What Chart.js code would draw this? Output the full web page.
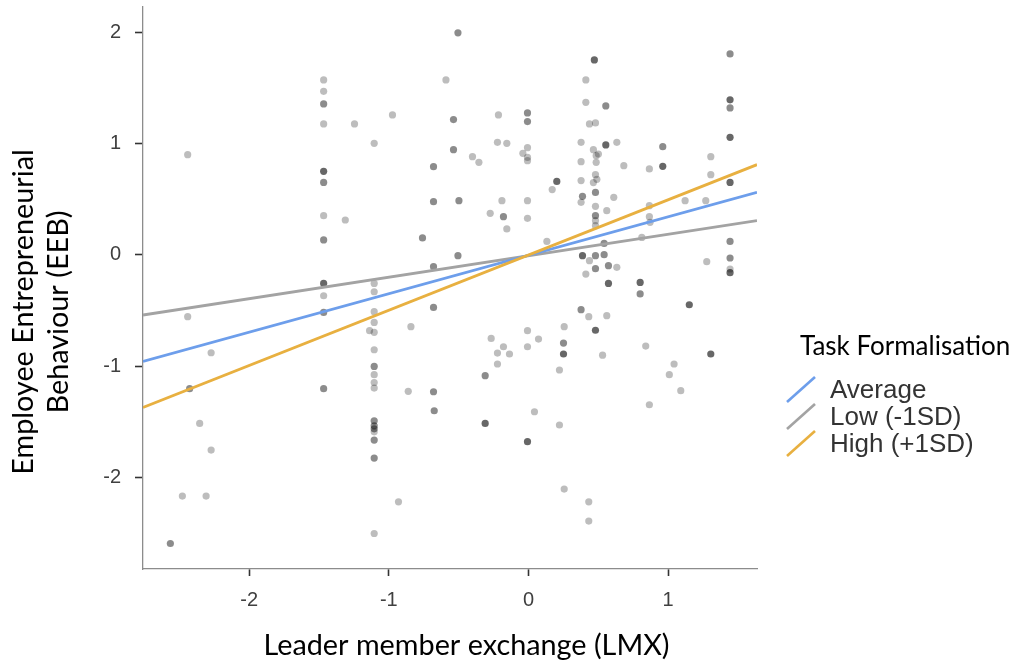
<!DOCTYPE html>
<html><head><meta charset="utf-8">
<script src="https://cdn.jsdelivr.net/npm/chart.js@4/dist/chart.umd.min.js"></script>
<style>html,body{margin:0;padding:0;background:#fff}#wrap{position:relative;width:1015px;height:662px}</style>
</head><body><div id="wrap"><canvas id="c"></canvas></div>
<script>
// Observed points (LMX, EEB) and how many observations overlap at each spot
const lmx = [-2.441,-1.467,-1.467,-1.467,-1.467,-1.246,-0.974,-1.105,-1.467,-1.467,-0.680,-0.591,-0.537,-0.537,-0.505,-0.215,-0.401,-0.355,-0.222,-0.155,
 -0.007,-0.007,-0.007,-0.040,-0.007,-0.007,0.203,0.170,0.472,0.411,0.411,0.554,0.437,0.480,0.377,0.465,0.554,0.633,0.377,0.485,
 0.485,0.501,0.683,0.866,0.377,0.480,0.465,0.490,0.387,0.480,0.611,0.962,0.962,1.306,1.306,1.444,1.444,1.444,1.444,1.444,
 -0.498,-0.190,-0.007,1.122,1.270,-1.467,-1.312,-1.467,-1.467,-1.467,-1.467,-2.441,-2.273,-1.105,-1.105,-1.105,-1.105,-1.138,-1.105,-0.842,
 -1.105,-1.105,-1.105,-1.105,-1.105,-0.680,-0.759,-0.505,-0.680,-0.680,-2.427,-1.467,-0.861,-0.680,-2.355,-2.273,-2.479,-2.309,-2.565,-1.105,
 -1.105,-1.105,-1.105,-1.105,-1.105,-0.675,-0.931,-1.105,-0.274,-0.179,-0.007,-0.155,0.132,0.377,0.480,0.480,0.480,0.480,0.561,0.866,
 0.866,0.871,0.542,0.812,0.387,0.480,0.542,0.437,0.480,0.573,0.633,0.411,0.573,0.800,0.800,1.444,1.444,1.444,1.444,1.277,
 1.152,0.377,0.432,0.561,0.256,0.480,-0.267,-0.007,0.072,-0.179,-0.222,-0.136,-0.007,-0.222,0.251,0.251,0.531,0.222,-0.310,0.840,
 1.306,1.043,1.009,1.091,-0.310,0.043,0.222,-0.007,0.256,0.432,0.432,0.866];
const eeb = [0.901,1.572,1.470,1.357,1.177,1.177,1.258,1.003,0.751,0.652,0.793,1.572,1.216,0.946,1.995,1.258,0.883,0.832,1.012,1.003,
 1.276,1.198,0.964,0.913,0.877,0.847,0.661,0.587,1.752,1.572,1.371,1.339,1.177,1.186,1.012,0.946,0.988,1.012,0.838,0.892,
 0.832,0.907,0.802,0.773,0.668,0.721,0.650,0.679,0.527,0.562,0.518,0.973,0.796,0.883,0.721,1.806,1.393,1.321,1.057,0.652,
 0.488,0.488,0.488,0.488,0.488,0.353,0.314,0.135,-0.255,-0.366,-0.516,-0.554,-0.878,-0.255,-0.330,-0.509,-0.606,-0.680,-0.695,-0.644,
 -0.851,-1.001,-1.075,-1.145,-1.195,0.479,0.153,-0.006,-0.105,-0.471,-1.201,-1.201,-1.224,-1.228,-1.513,-1.752,-2.165,-2.165,-2.591,-1.489,
 -1.534,-1.561,-1.588,-1.662,-1.824,-1.399,-2.217,-2.501,0.374,0.344,0.329,0.234,0.122,0.473,0.437,0.353,0.308,0.263,0.398,0.443,
 0.344,0.293,0.104,0.158,-0.006,-0.006,0.003,-0.051,-0.123,-0.096,-0.111,-0.171,-0.255,-0.246,-0.350,0.122,-0.027,-0.126,-0.159,-0.060,
 -0.447,-0.491,-0.554,-0.545,-0.644,-0.676,-0.749,-0.680,-0.755,-0.824,-0.881,-0.889,-0.824,-0.979,-0.791,-0.889,-0.900,-1.033,-1.084,-0.818,
 -0.889,-0.979,-1.075,-1.219,-1.513,-1.408,-1.527,-1.677,-2.102,-2.217,-2.390,-1.345];
const overlap = [1,1,1,2,1,1,1,1,3,2,2,1,2,2,2,1,1,1,1,1,
 2,2,1,1,1,1,3,1,3,1,1,2,1,1,1,1,3,1,1,1,
 1,1,1,1,1,1,1,1,2,2,1,2,3,1,1,2,3,2,3,3,
 2,1,1,1,1,1,1,2,3,1,2,1,1,1,1,1,1,1,1,1,
 1,2,1,1,1,2,2,2,2,2,2,2,1,2,1,1,1,1,2,2,
 2,2,1,2,2,2,1,1,1,2,1,1,1,1,1,2,1,1,1,1,
 1,1,2,1,3,2,2,1,2,2,1,1,3,3,2,2,2,1,3,1,
 3,2,1,1,1,3,1,1,1,1,1,1,1,1,2,3,1,1,2,1,
 3,1,1,1,3,1,1,3,1,1,1,1];

// Simple-slope lines: EEB at the two ends of the LMX axis
const lineX = [-2.761, 1.637];
const averageY = [-0.956, 0.562];
const lowY = [-0.539, 0.308];
const highY = [-1.369, 0.811];

const seriesNames = ['Average', 'Low (-1SD)', 'High (+1SD)'];
const legendTitle = 'Task Formalisation';
const xTitle = 'Leader member exchange (LMX)';
const yTitle = ['Employee Entrepreneurial', 'Behaviour (EEB)'];

const xTickValues = [-2, -1, 0, 1];
const xTickLabels = ['-2', '-1', '0', '1'];
const yTickValues = [2, 1, 0, -1, -2];
const yTickLabels = ['2', '1', '0', '-1', '-2'];

const colors = { average: '#6d9eeb', low: '#a3a3a3', high: '#e8b040' };

const points = lmx.map((x, i) => ({ x: x, y: eeb[i] }));
const pointColors = overlap.map(n => 'rgba(0,0,0,' + (1 - Math.pow(1 - 0.26, n)).toFixed(3) + ')');
const seg = ys => lineX.map((x, i) => ({ x: x, y: ys[i] }));

const textPlugin = {
  id: 'texts',
  afterDraw(chart) {
    const ctx = chart.ctx;
    ctx.save();
    ctx.fillStyle = '#000';
    ctx.font = '28.8px Lato';
    ctx.textAlign = 'center';
    ctx.textBaseline = 'alphabetic';
    ctx.fillText(xTitle, 466.5, 655);
    ctx.save();
    ctx.translate(33, 312);
    ctx.rotate(-Math.PI / 2);
    ctx.fillText(yTitle[0], 0, 0);
    ctx.fillText(yTitle[1], 0, 35);
    ctx.restore();
    ctx.textAlign = 'left';
    ctx.font = '26px Lato';
    ctx.fillText(legendTitle, 800, 355);
    const cols = [colors.average, colors.low, colors.high];
    const bases = [398, 425, 452];
    ctx.font = '26px "Liberation Sans", Arial, sans-serif';
    for (let i = 0; i < 3; i++) {
      const b = bases[i];
      ctx.strokeStyle = cols[i];
      ctx.lineWidth = 2.6;
      ctx.beginPath();
      ctx.moveTo(787, b + 4);
      ctx.lineTo(815, b - 21);
      ctx.stroke();
      ctx.fillStyle = '#333';
      ctx.fillText(seriesNames[i], 830, b);
    }
    ctx.restore();
  }
};

const tickFont = { family: '"Liberation Sans", Arial, sans-serif', size: 20 };

new Chart(document.getElementById('c'), {
  type: 'scatter',
  data: {
    datasets: [
      { label: seriesNames[2], data: seg(highY), showLine: true, borderColor: colors.high, borderWidth: 2.8, pointRadius: 0, order: 1 },
      { label: seriesNames[0], data: seg(averageY), showLine: true, borderColor: colors.average, borderWidth: 2.8, pointRadius: 0, order: 2 },
      { label: seriesNames[1], data: seg(lowY), showLine: true, borderColor: colors.low, borderWidth: 2.8, pointRadius: 0, order: 3 },
      { label: 'obs', data: points, pointRadius: 3.6, pointBackgroundColor: pointColors, pointBorderWidth: 0, order: 4 }
    ]
  },
  options: {
    responsive: true,
    maintainAspectRatio: false,
    animation: false,
    events: [],
    layout: { padding: { top: 7, right: 258, left: 0, bottom: 0 } },
    plugins: { legend: { display: false }, tooltip: { enabled: false } },
    scales: {
      x: {
        type: 'linear', min: lineX[0], max: lineX[1],
        afterBuildTicks: s => { s.ticks = xTickValues.map(v => ({ value: v })); },
        afterFit: s => { s.height = 93; s.paddingLeft = 0; s.paddingRight = 0; },
        ticks: { callback: v => xTickLabels[xTickValues.indexOf(v)], font: tickFont, color: '#404040', padding: 12, maxRotation: 0, autoSkip: false },
        grid: { display: true, drawOnChartArea: false, drawTicks: true, tickLength: 7, tickColor: '#333', tickWidth: 1.6 },
        border: { display: true, color: '#8c8c8c', width: 1.3 }
      },
      y: {
        type: 'linear', min: -2.82, max: 2.227,
        afterBuildTicks: s => { s.ticks = yTickValues.map(v => ({ value: v })); },
        afterFit: s => { s.width = 143; s.paddingTop = 0; s.paddingBottom = 0; },
        ticks: { callback: v => yTickLabels[yTickValues.indexOf(v)], font: tickFont, color: '#404040', padding: 14, autoSkip: false },
        grid: { display: true, drawOnChartArea: false, drawTicks: true, tickLength: 8, tickColor: '#333', tickWidth: 1.6 },
        border: { display: true, color: '#8c8c8c', width: 1.3 }
      }
    }
  },
  plugins: [textPlugin]
});
</script></body></html>
